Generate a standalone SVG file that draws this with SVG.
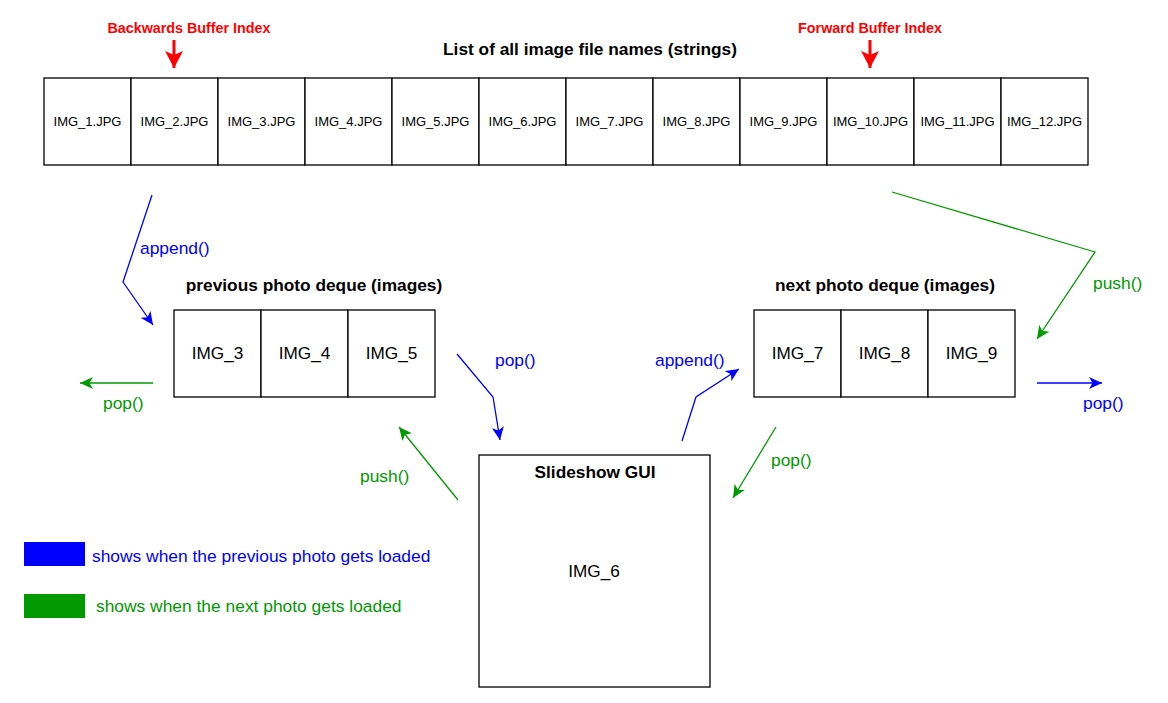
<svg xmlns="http://www.w3.org/2000/svg" width="1168" height="703" viewBox="0 0 1168 703">
<style>
.box{fill:#fff;stroke:#000;stroke-width:1.3}
.cell{font-family:"Liberation Sans",Arial,sans-serif;font-size:13px;fill:#000;text-anchor:middle}
.dq{font-family:"Liberation Sans",Arial,sans-serif;font-size:17.2px;fill:#000;text-anchor:middle}
.hd{font-family:"Liberation Sans",Arial,sans-serif;font-size:17.3px;font-weight:bold;fill:#000;text-anchor:middle}
.red{font-family:"Liberation Sans",Arial,sans-serif;font-size:14.3px;font-weight:bold;fill:#f00;text-anchor:middle}
.lb{font-family:"Liberation Sans",Arial,sans-serif;font-size:17.4px}
.bt{fill:#0000ff}
.gt{fill:#009900}
.bl{fill:none;stroke:#0000ff;stroke-width:1.3}
.gl{fill:none;stroke:#009900;stroke-width:1.3}
.rl{fill:none;stroke:#f00;stroke-width:3}
</style>
<defs>
<marker id="ab" markerUnits="userSpaceOnUse" markerWidth="14" markerHeight="12" refX="13" refY="6" orient="auto"><path d="M0,0 L13,6 L0,12 L3.5,6 z" fill="#0000ff"/></marker>
<marker id="ag" markerUnits="userSpaceOnUse" markerWidth="14" markerHeight="12" refX="13" refY="6" orient="auto"><path d="M0,0 L13,6 L0,12 L3.5,6 z" fill="#009900"/></marker>
<marker id="ar" markerUnits="userSpaceOnUse" markerWidth="18" markerHeight="18" refX="17" refY="9" orient="auto"><path d="M0,0 L17,9 L0,18 L4,9 z" fill="#f00"/></marker>
</defs>
<rect width="1168" height="703" fill="#fff"/>

<g id="labels-top">
<text class="red" x="189" y="33">Backwards Buffer Index</text>
<text class="red" x="870" y="33">Forward Buffer Index</text>
<text class="hd" x="590" y="55">List of all image file names (strings)</text>
</g>

<g id="file-list">
<rect class="box" x="44" y="78" width="87" height="87"/>
<rect class="box" x="131" y="78" width="87" height="87"/>
<rect class="box" x="218" y="78" width="87" height="87"/>
<rect class="box" x="305" y="78" width="87" height="87"/>
<rect class="box" x="392" y="78" width="87" height="87"/>
<rect class="box" x="479" y="78" width="87" height="87"/>
<rect class="box" x="566" y="78" width="87" height="87"/>
<rect class="box" x="653" y="78" width="87" height="87"/>
<rect class="box" x="740" y="78" width="87" height="87"/>
<rect class="box" x="827" y="78" width="87" height="87"/>
<rect class="box" x="914" y="78" width="87" height="87"/>
<rect class="box" x="1001" y="78" width="87" height="87"/>
<text class="cell" x="87.5" y="126">IMG_1.JPG</text>
<text class="cell" x="174.5" y="126">IMG_2.JPG</text>
<text class="cell" x="261.5" y="126">IMG_3.JPG</text>
<text class="cell" x="348.5" y="126">IMG_4.JPG</text>
<text class="cell" x="435.5" y="126">IMG_5.JPG</text>
<text class="cell" x="522.5" y="126">IMG_6.JPG</text>
<text class="cell" x="609.5" y="126">IMG_7.JPG</text>
<text class="cell" x="696.5" y="126">IMG_8.JPG</text>
<text class="cell" x="783.5" y="126">IMG_9.JPG</text>
<text class="cell" x="870.5" y="126">IMG_10.JPG</text>
<text class="cell" x="957.5" y="126">IMG_11.JPG</text>
<text class="cell" x="1044.5" y="126">IMG_12.JPG</text>
</g>

<g id="previous-deque">
<text class="hd" x="314" y="291">previous photo deque (images)</text>
<rect class="box" x="174" y="310" width="87" height="87"/>
<rect class="box" x="261" y="310" width="87" height="87"/>
<rect class="box" x="348" y="310" width="87" height="87"/>
<text class="dq" x="217.5" y="359">IMG_3</text>
<text class="dq" x="304.5" y="359">IMG_4</text>
<text class="dq" x="391.5" y="359">IMG_5</text>
</g>

<g id="next-deque">
<text class="hd" x="885" y="291">next photo deque (images)</text>
<rect class="box" x="754" y="310" width="87" height="87"/>
<rect class="box" x="841" y="310" width="87" height="87"/>
<rect class="box" x="928" y="310" width="87" height="87"/>
<text class="dq" x="797.5" y="359">IMG_7</text>
<text class="dq" x="884.5" y="359">IMG_8</text>
<text class="dq" x="971.5" y="359">IMG_9</text>
</g>

<g id="slideshow-gui">
<rect class="box" x="479" y="455" width="231" height="232"/>
<text class="hd" x="595" y="478">Slideshow GUI</text>
<text class="dq" x="594" y="577">IMG_6</text>
</g>

<g id="connectors">
<path class="rl" d="M174,40 L174,68" marker-end="url(#ar)"/>
<path class="rl" d="M870,40 L870,68" marker-end="url(#ar)"/>
<path class="bl" d="M152,195 L123,282 L153,325" marker-end="url(#ab)"/>
<path class="gl" d="M153,383 L80,383" marker-end="url(#ag)"/>
<path class="bl" d="M457,354 L493,397 L500,440" marker-end="url(#ab)"/>
<path class="gl" d="M458,500 L399,427" marker-end="url(#ag)"/>
<path class="gl" d="M892,192 L1095,252 L1037,339" marker-end="url(#ag)"/>
<path class="bl" d="M682,441 L696,397 L739,369" marker-end="url(#ab)"/>
<path class="bl" d="M1037,383 L1102,383" marker-end="url(#ab)"/>
<path class="gl" d="M776,427 L733,498" marker-end="url(#ag)"/>
</g>

<g id="connector-labels">
<text class="lb bt" x="140" y="254">append()</text>
<text class="lb gt" x="103" y="409">pop()</text>
<text class="lb bt" x="495" y="366">pop()</text>
<text class="lb gt" x="360" y="482">push()</text>
<text class="lb gt" x="1093" y="289">push()</text>
<text class="lb bt" x="655" y="366">append()</text>
<text class="lb bt" x="1083" y="409">pop()</text>
<text class="lb gt" x="771" y="466">pop()</text>
</g>

<g id="legend">
<rect x="24" y="542" width="61" height="24" fill="#0000ff"/>
<text class="lb bt" x="92" y="562">shows when the previous photo gets loaded</text>
<rect x="24" y="594" width="61" height="24" fill="#009900"/>
<text class="lb gt" x="96" y="612">shows when the next photo gets loaded</text>
</g>
</svg>
